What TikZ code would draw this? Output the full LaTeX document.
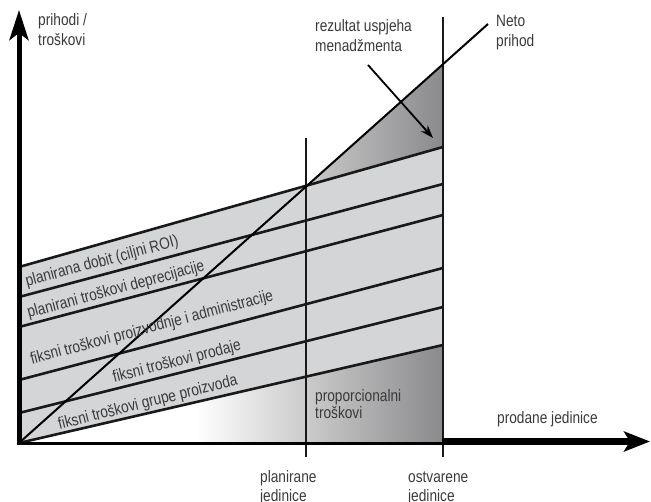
\documentclass[tikz,border=0pt]{standalone}
\usepackage{fontspec}
\setmainfont{Liberation Sans}[FakeStretch=0.83]
\usetikzlibrary{arrows.meta}

\definecolor{bandgray}{HTML}{D4D5D7}
\definecolor{darkshade}{HTML}{8A8A8C}
\definecolor{labelgray}{HTML}{3A3A3A}

\newcommand{\lblfont}{\fontsize{16.5}{20.5}\selectfont}

\begin{document}
\begin{tikzpicture}[x=1pt, y=-1pt,
  every node/.style={inner sep=0pt, text=labelgray, font=\lblfont},
  costline/.style={line width=2.6pt, color=black!90},
  unitline/.style={line width=2.2pt, color=black!90}]
\useasboundingbox (0,0) rectangle (651,502);

% band corners: a = left axis, b = realised units
\coordinate (a1) at (19,267); \coordinate (b1) at (443,147);
\coordinate (a2) at (19,297); \coordinate (b2) at (443,184);
\coordinate (a3) at (19,327); \coordinate (b3) at (443,215);
\coordinate (a4) at (19,380); \coordinate (b4) at (443,268);
\coordinate (a5) at (19,413); \coordinate (b5) at (443,307);
\coordinate (a6) at (19,443); \coordinate (b6) at (443,345);
\coordinate (origin) at (19,443);
\coordinate (netend) at (488,24);
\coordinate (plantop) at (306,138); \coordinate (planbot) at (306,457);
\coordinate (realtop) at (443,17); \coordinate (realbot) at (443,457);
\coordinate (xstart) at (17,443.5); \coordinate (xbreak) at (443,443.5);
\coordinate (xthick) at (442,441.5); \coordinate (xend) at (650,441.5);
\coordinate (ystart) at (19,445); \coordinate (yend) at (19,10);
\coordinate (mgmtfrom) at (368,65); \coordinate (mgmtto) at (433,138);

% fills
\fill[bandgray] (a1) -- (b1) -- (b6) -- (a6) -- cycle;
\begin{scope}
\clip (a6) -- (b6) -- (realbot |- a6) -- cycle;
\shade[left color=white, right color=darkshade] (195,300) rectangle (443,446);
\end{scope}
\begin{scope}
\clip (intersection of origin--netend and a1--b1) -- (intersection of origin--netend and realtop--realbot) -- (b1) -- cycle;
\shade[left color=white, right color=darkshade] (195,40) rectangle (443,200);
\end{scope}

% cost lines
\foreach \i in {1,...,6}
  \draw[costline] (a\i) -- (b\i);

\draw[unitline] (plantop) -- (planbot);
\draw[unitline] (realtop) -- (realbot);
\draw[line width=2pt] (origin) -- (netend);

% axes
\draw[line width=3pt] (xstart) -- (xbreak);
\draw[line width=7pt, -{Stealth[length=26pt, width=20pt, inset=6pt]}] (xthick) -- (xend);
\draw[line width=5pt, -{Stealth[length=30pt, width=19pt, inset=7pt]}] (ystart) -- (yend);

\draw[line width=1.8pt, -{Stealth[length=13pt, width=9pt]}] (mgmtfrom) -- (mgmtto);

% labels
\node[anchor=base west] (yaxis) at (38,25.5) {\begin{tabular}[t]{@{}l@{}}
prihodi /\\
troškovi
\end{tabular}};
\node[anchor=base west] (result) at (315,31.5) {\begin{tabular}[t]{@{}l@{}}
rezultat uspjeha\\
menadžmenta
\end{tabular}};
\node[anchor=base west] (net) at (496,26.5) {\begin{tabular}[t]{@{}l@{}}
Neto\\
prihod
\end{tabular}};

\node[rotate=15] (profit) at (102,262) {planirana dobit (ciljni ROI)};
\node[rotate=15] (depreciation) at (116,290) {planirani troškovi deprecijacije};
\node[rotate=14.8] (production) at (152,328) {fiksni troškovi proizvodnje i administracije};
\node[rotate=14.5] (sales) at (177,362) {fiksni troškovi prodaje};
\node[rotate=14] (group) at (148,403) {fiksni troškovi grupe proizvoda};

\node[anchor=base west, font=\fontsize{16.5}{17.5}\selectfont] (proportional) at (315,401.5) {\begin{tabular}[t]{@{}l@{}}
proporcionalni\\
troškovi
\end{tabular}};
\node[anchor=base west] (xaxis) at (497,424) {prodane jedinice};

\node[anchor=base west, font=\fontsize{16.5}{18.5}\selectfont] (planned) at (260,483) {\begin{tabular}[t]{@{}l@{}}
planirane\\
jedinice
\end{tabular}};
\node[anchor=base west, font=\fontsize{16.5}{18.5}\selectfont] (realised) at (408,482.5) {\begin{tabular}[t]{@{}l@{}}
ostvarene\\
jedinice
\end{tabular}};
\end{tikzpicture}
\end{document}
